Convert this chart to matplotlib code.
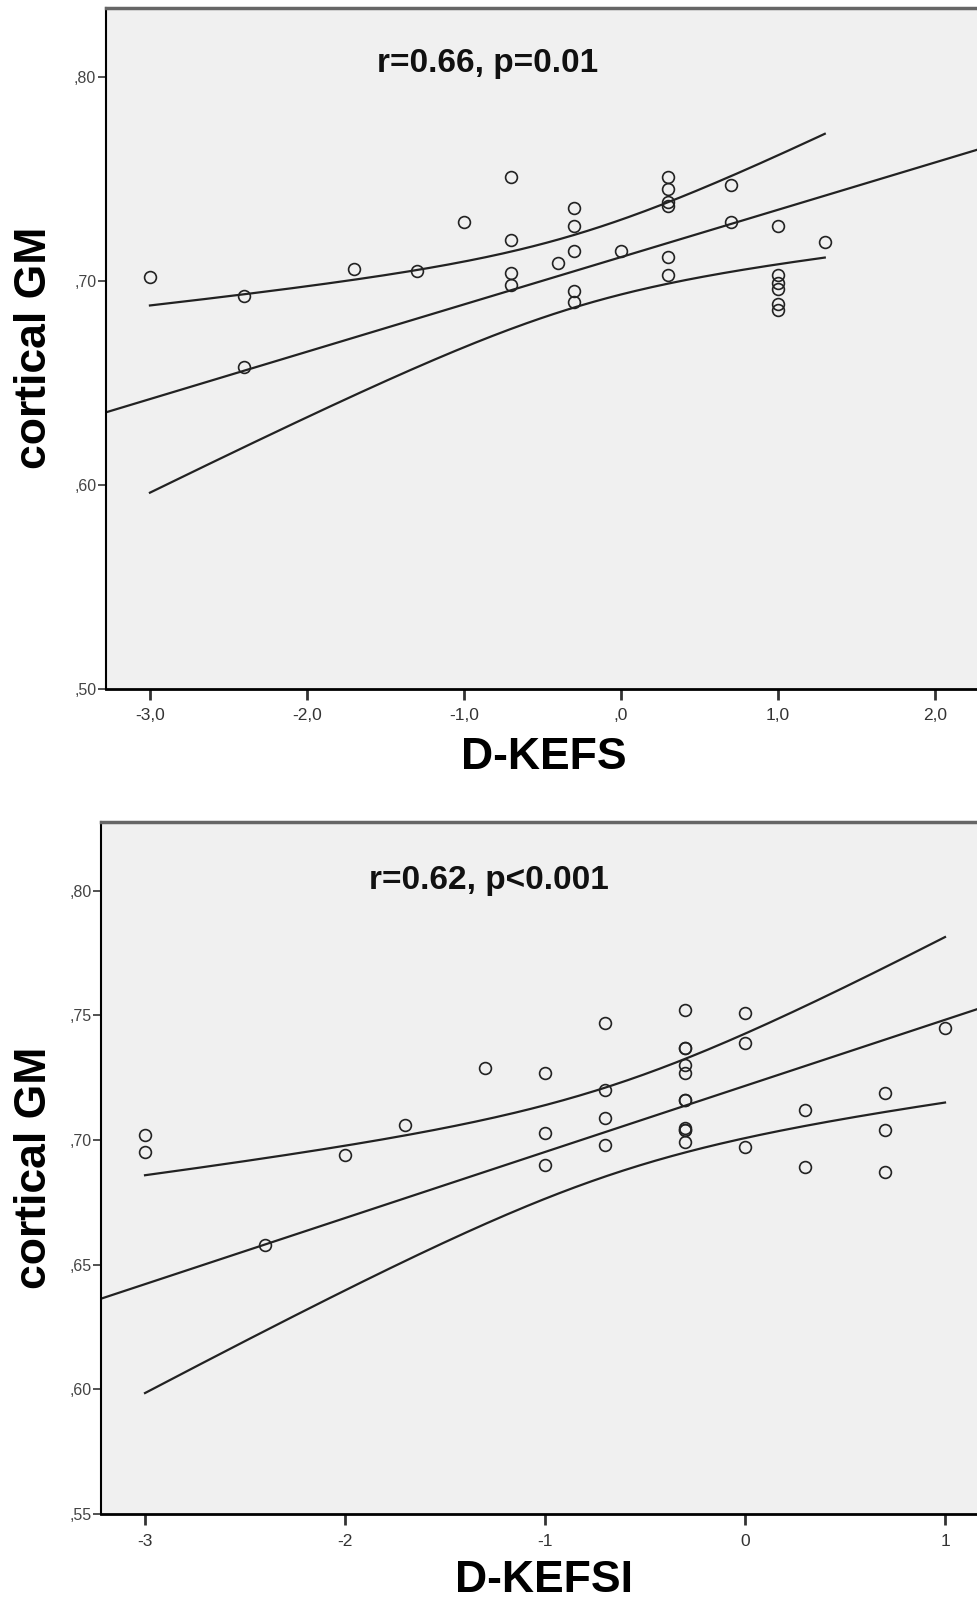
import numpy as np
import matplotlib
matplotlib.use("Agg")
import matplotlib.pyplot as plt

# top panel: D-KEFS vs cortical GM
kefs_x = [-3.0, -2.4, -2.4, -1.7, -1.3, -1.0, -0.7, -0.7, -0.7, -0.7, -0.4,
          -0.3, -0.3, -0.3, -0.3, -0.3, 0.0, 0.3, 0.3, 0.3, 0.3, 0.3, 0.3,
          0.7, 0.7, 1.0, 1.0, 1.0, 1.0, 1.0, 1.0, 1.3]
kefs_gm = [0.702, 0.693, 0.658, 0.706, 0.705, 0.729, 0.751, 0.720, 0.704, 0.698, 0.709,
           0.736, 0.727, 0.715, 0.695, 0.690, 0.715, 0.751, 0.745, 0.739, 0.737, 0.712, 0.703,
           0.747, 0.729, 0.727, 0.703, 0.699, 0.696, 0.689, 0.686, 0.719]
# fit line and 95% mean CI as drawn in the figure
kefs_fit = [0.7118, 0.0232]          # intercept, slope
kefs_ci = [-0.28, 0.0178, 0.01556]   # x of narrowest point, half-width there, growth
kefs_xticks = [-3, -2, -1, 0, 1, 2]
kefs_xticklabels = ["-3,0", "-2,0", "-1,0", ",0", "1,0", "2,0"]
kefs_yticks = [0.50, 0.60, 0.70, 0.80]
kefs_yticklabels = [",50", ",60", ",70", ",80"]
kefs_note = "r=0.66, p=0.01"

# bottom panel: D-KEFSI vs cortical GM
kefsi_x = [-3, -3, -2.4, -2, -1.7, -1.3, -1, -1, -1, -0.7, -0.7, -0.7, -0.7,
           -0.3, -0.3, -0.3, -0.3, -0.3, -0.3, -0.3, -0.3, -0.3, -0.3, -0.3,
           0, 0, 0, 0.3, 0.3, 0.7, 0.7, 0.7, 1]
kefsi_gm = [0.702, 0.695, 0.658, 0.694, 0.706, 0.729, 0.727, 0.703, 0.690, 0.747, 0.720, 0.709, 0.698,
            0.752, 0.737, 0.737, 0.730, 0.727, 0.716, 0.716, 0.705, 0.704, 0.704, 0.699,
            0.751, 0.739, 0.697, 0.712, 0.689, 0.719, 0.704, 0.687, 0.745]
kefsi_fit = [0.7217, 0.0265]
kefsi_ci = [-0.65, 0.0178, 0.01697]
kefsi_xticks = [-3, -2, -1, 0, 1]
kefsi_xticklabels = ["-3", "-2", "-1", "0", "1"]
kefsi_yticks = [0.55, 0.60, 0.65, 0.70, 0.75, 0.80]
kefsi_yticklabels = [",55", ",60", ",65", ",70", ",75", ",80"]
kefsi_note = "r=0.62, p<0.001"

LINE_C = "#222222"


def panel(ax, x, y, fit, ci, xlim, ylim, xticks, xlabels, yticks, ylabels, note, note_pos):
	ax.set_facecolor("#f0f0f0")
	a, b = fit
	xm, h0, g = ci
	xfull = np.linspace(xlim[0], xlim[1], 200)
	xs = np.linspace(min(x), max(x), 200)
	hw = np.sqrt(h0 ** 2 + (g * (xs - xm)) ** 2)
	ax.plot(xfull, a + b * xfull, color=LINE_C, lw=1.6, zorder=2)
	ax.plot(xs, a + b * xs - hw, color=LINE_C, lw=1.6, zorder=2)
	ax.plot(xs, a + b * xs + hw, color=LINE_C, lw=1.6, zorder=2)
	ax.plot(x, y, "o", mfc="none", mec=LINE_C, mew=1.2, ms=8.5, zorder=3)
	ax.set_xlim(xlim)
	ax.set_ylim(ylim)
	ax.set_xticks(xticks)
	ax.set_xticklabels(xlabels, fontsize=12.5, color="#333333", family="Liberation Sans")
	ax.set_yticks(yticks)
	ax.set_yticklabels(ylabels, fontsize=11.5, color="#444444", family="Liberation Sans")
	ax.tick_params(axis="x", length=8, width=2, direction="out", pad=6, color="#333333")
	ax.tick_params(axis="y", length=6, width=1.2, direction="out", pad=1, color="#333333")
	ax.spines["right"].set_visible(False)
	ax.spines["left"].set_linewidth(1.5)
	ax.spines["bottom"].set_linewidth(2)
	ax.spines["top"].set_linewidth(2.5)
	ax.spines["top"].set_color("#666666")
	ax.text(note_pos[0], note_pos[1], note, transform=ax.transAxes, ha="center", va="center",
	        fontsize=24, fontweight="bold", family="Liberation Sans", color="#111111")


def main():
	fig = plt.figure(figsize=(9.77, 16.09), dpi=100)

	ax1 = fig.add_axes([0.1085, 0.5718, 0.8915, 0.4232])
	panel(ax1, kefs_x, kefs_gm, kefs_fit, kefs_ci, (-3.28, 2.27), (0.50, 0.834),
	      kefs_xticks, kefs_xticklabels, kefs_yticks, kefs_yticklabels,
	      kefs_note, (0.4386, 0.918))

	ax2 = fig.add_axes([0.1034, 0.0590, 0.8966, 0.4301])
	panel(ax2, kefsi_x, kefsi_gm, kefsi_fit, kefsi_ci, (-3.22, 1.16), (0.55, 0.8275),
	      kefsi_xticks, kefsi_xticklabels, kefsi_yticks, kefsi_yticklabels,
	      kefsi_note, (0.443, 0.916))

	lab = dict(fontsize=32, fontweight="bold", family="Liberation Sans", ha="center", va="center")
	fig.text(0.0358, 0.7837, "cortical GM", rotation=90, **lab)
	fig.text(0.0358, 0.2741, "cortical GM", rotation=90, **lab)
	fig.text(0.557, 0.5289, "D-KEFS", **lab)
	fig.text(0.557, 0.018, "D-KEFSI", **lab)

	fig.savefig("out.png", dpi=100)


if __name__ == "__main__":
	main()
